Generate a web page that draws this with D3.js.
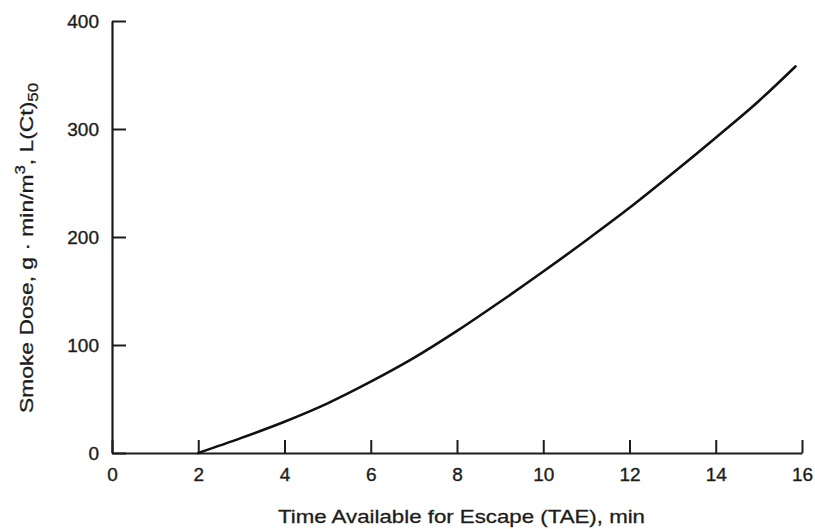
<!DOCTYPE html>
<html>
<head>
<meta charset="utf-8">
<script src="https://cdn.jsdelivr.net/npm/d3@7/dist/d3.min.js"></script>
<style>
  html, body { margin: 0; padding: 0; background: #fff; }
  svg { display: block; font-family: "Liberation Sans", Arial, Helvetica, sans-serif; }
</style>
</head>
<body>
<svg id="chart" width="815" height="529"></svg>
<script>
// ---- data ----
const xTicks = [0, 2, 4, 6, 8, 10, 12, 14, 16];
const yTicks = [0, 100, 200, 300, 400];
const timeMin = [2, 3, 4, 5, 6, 7, 8, 9, 10, 11, 12, 13, 14, 15, 15.85];
const smokeDose = [0, 14, 29, 46, 66, 88, 113, 140, 168, 197, 227, 259, 292, 326, 358];
const xTitle = "Time Available for Escape (TAE), min";

// ---- layout ----
const svg = d3.select("#chart");
const ink = "#1c1c1c";

const x = d3.scaleLinear().domain([0, 16]).range([112, 802]);
const y = d3.scaleLinear().domain([0, 400]).range([453, 21]);

// x axis
const gx = svg.append("g")
  .attr("transform", `translate(0,${y(0)})`)
  .call(d3.axisBottom(x).tickValues(xTicks).tickFormat(d3.format("d"))
    .tickSizeInner(-13).tickSizeOuter(0).tickPadding(15));
// y axis
const gy = svg.append("g")
  .attr("transform", `translate(${x(0)},0)`)
  .call(d3.axisLeft(y).tickValues(yTicks).tickFormat(d3.format("d"))
    .tickSizeInner(-14).tickSizeOuter(0).tickPadding(13));

[gx, gy].forEach(g => {
  g.select(".domain").attr("stroke", ink).attr("stroke-width", 2.2);
  g.selectAll(".tick line").attr("stroke", ink).attr("stroke-width", 2);
  g.selectAll(".tick text").attr("fill", ink).attr("font-size", 19)
    .attr("stroke", ink).attr("stroke-width", 0.35)
    .attr("font-family", "Liberation Sans, Arial, sans-serif");
});

// curve
const line = d3.line()
  .x((d, i) => x(timeMin[i]))
  .y(d => y(d))
  .curve(d3.curveMonotoneX);
svg.append("path")
  .datum(smokeDose)
  .attr("d", line)
  .attr("fill", "none")
  .attr("stroke", "#111")
  .attr("stroke-width", 2.6)
  .attr("stroke-linecap", "round");

// x title
svg.append("text")
  .attr("x", 278)
  .attr("y", 523)
  .attr("font-size", 19)
  .attr("fill", ink)
  .attr("stroke", ink).attr("stroke-width", 0.3)
  .attr("textLength", 367)
  .attr("lengthAdjust", "spacingAndGlyphs")
  .text(xTitle);

// y title (rotated) with superscript and subscript
const yt = svg.append("text")
  .attr("transform", "translate(33,413) rotate(-90)")
  .attr("font-size", 19)
  .attr("fill", ink)
  .attr("stroke", ink).attr("stroke-width", 0.3)
  .attr("textLength", 330)
  .attr("lengthAdjust", "spacingAndGlyphs");
yt.append("tspan").text("Smoke Dose, g \u00b7 min/m");
yt.append("tspan").attr("font-size", 14).attr("dy", -8).text("3");
yt.append("tspan").attr("dy", 8).text(", L(Ct)");
yt.append("tspan").attr("font-size", 14).attr("dy", 5).text("50");
</script>
</body>
</html>
